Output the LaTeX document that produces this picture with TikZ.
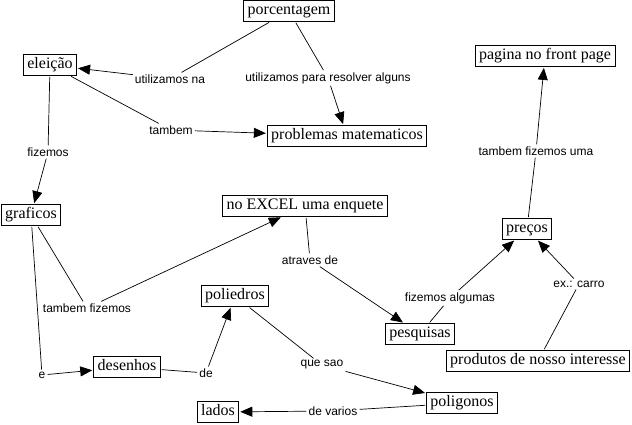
\documentclass[tikz,border=0pt]{standalone}
\usepackage{fontspec}
\setmainfont{Liberation Serif}
\newfontfamily\lblfont{Liberation Sans}
\usetikzlibrary{arrows.meta}
\begin{document}
\begin{tikzpicture}[x=1pt,y=-1pt,
  concept/.style={draw,line width=0.8pt,font=\fontsize{16}{19}\selectfont,inner xsep=4pt,inner ysep=3pt,text height=11pt,text depth=4pt},
  lbl/.style={font=\lblfont\fontsize{12}{14}\selectfont,inner sep=2pt},
  con/.style={line width=0.7pt,shorten <=1pt},
  arr/.style={line width=0.7pt,-{Triangle[length=12pt,width=10pt]},shorten >=1pt}]
\useasboundingbox (0,0) rectangle (632,424);
% concepts
\node[concept] (porc) at (289,11) {porcentagem};
\node[concept] (elei) at (50,65) {eleição};
\node[concept] (prob) at (347,136) {problemas matematicos};
\node[concept] (graf) at (31,215) {graficos};
\node[concept] (excel) at (305,206) {no EXCEL uma enquete};
\node[concept] (pag) at (545,56) {pagina no front page};
\node[concept] (prec) at (527,229) {preços};
\node[concept] (pesq) at (420,334) {pesquisas};
\node[concept] (prod) at (538,361) {produtos de nosso interesse};
\node[concept] (poli) at (235,296) {poliedros};
\node[concept] (des) at (127,367) {desenhos};
\node[concept] (lados) at (218,412) {lados};
\node[concept] (polig) at (462,403) {poligonos};
% labels
\node[lbl] (l1) at (170,79) {utilizamos na};
\node[lbl] (l2) at (328,78) {utilizamos para resolver alguns};
\node[lbl] (l3) at (171,130) {tambem};
\node[lbl] (l4) at (48,152) {fizemos};
\node[lbl] (l5) at (536,151) {tambem fizemos uma};
\node[lbl] (l6) at (310,260) {atraves de};
\node[lbl] (l7) at (87,308) {tambem fizemos};
\node[lbl] (l8) at (450,298) {fizemos algumas};
\node[lbl] (l9) at (579,284) {ex.: carro};
\node[lbl] (l10) at (42,375) {e};
\node[lbl] (l11) at (206,373) {de};
\node[lbl] (l12) at (322,365) {que sao};
\node[lbl] (l13) at (333,411) {de varios};
% connectors
\draw[con] (porc) -- (l1); \draw[arr] (l1) -- (elei);
\draw[con] (porc) -- (l2); \draw[arr] (l2) -- (prob);
\draw[con] (elei) -- (l3); \draw[arr] (l3) -- (prob);
\draw[con] (elei) -- (l4); \draw[arr] (l4) -- (graf);
\draw[con] (prec) -- (l5); \draw[arr] (l5) -- (pag);
\draw[con] (excel) -- (l6); \draw[arr] (l6) -- (pesq);
\draw[con] (graf) -- (l7); \draw[arr] (l7) -- (excel);
\draw[con] (pesq) -- (l8); \draw[arr] (l8) -- (prec);
\draw[con] (prod) -- (l9); \draw[arr] (l9) -- (prec);
\draw[con] (graf) -- (l10); \draw[arr] (l10) -- (des);
\draw[con] (des) -- (l11); \draw[arr] (l11) -- (poli);
\draw[con] (poli) -- (l12); \draw[arr] (l12) -- (polig);
\draw[con] (polig) -- (l13); \draw[arr] (l13) -- (lados);
\end{tikzpicture}
\end{document}
